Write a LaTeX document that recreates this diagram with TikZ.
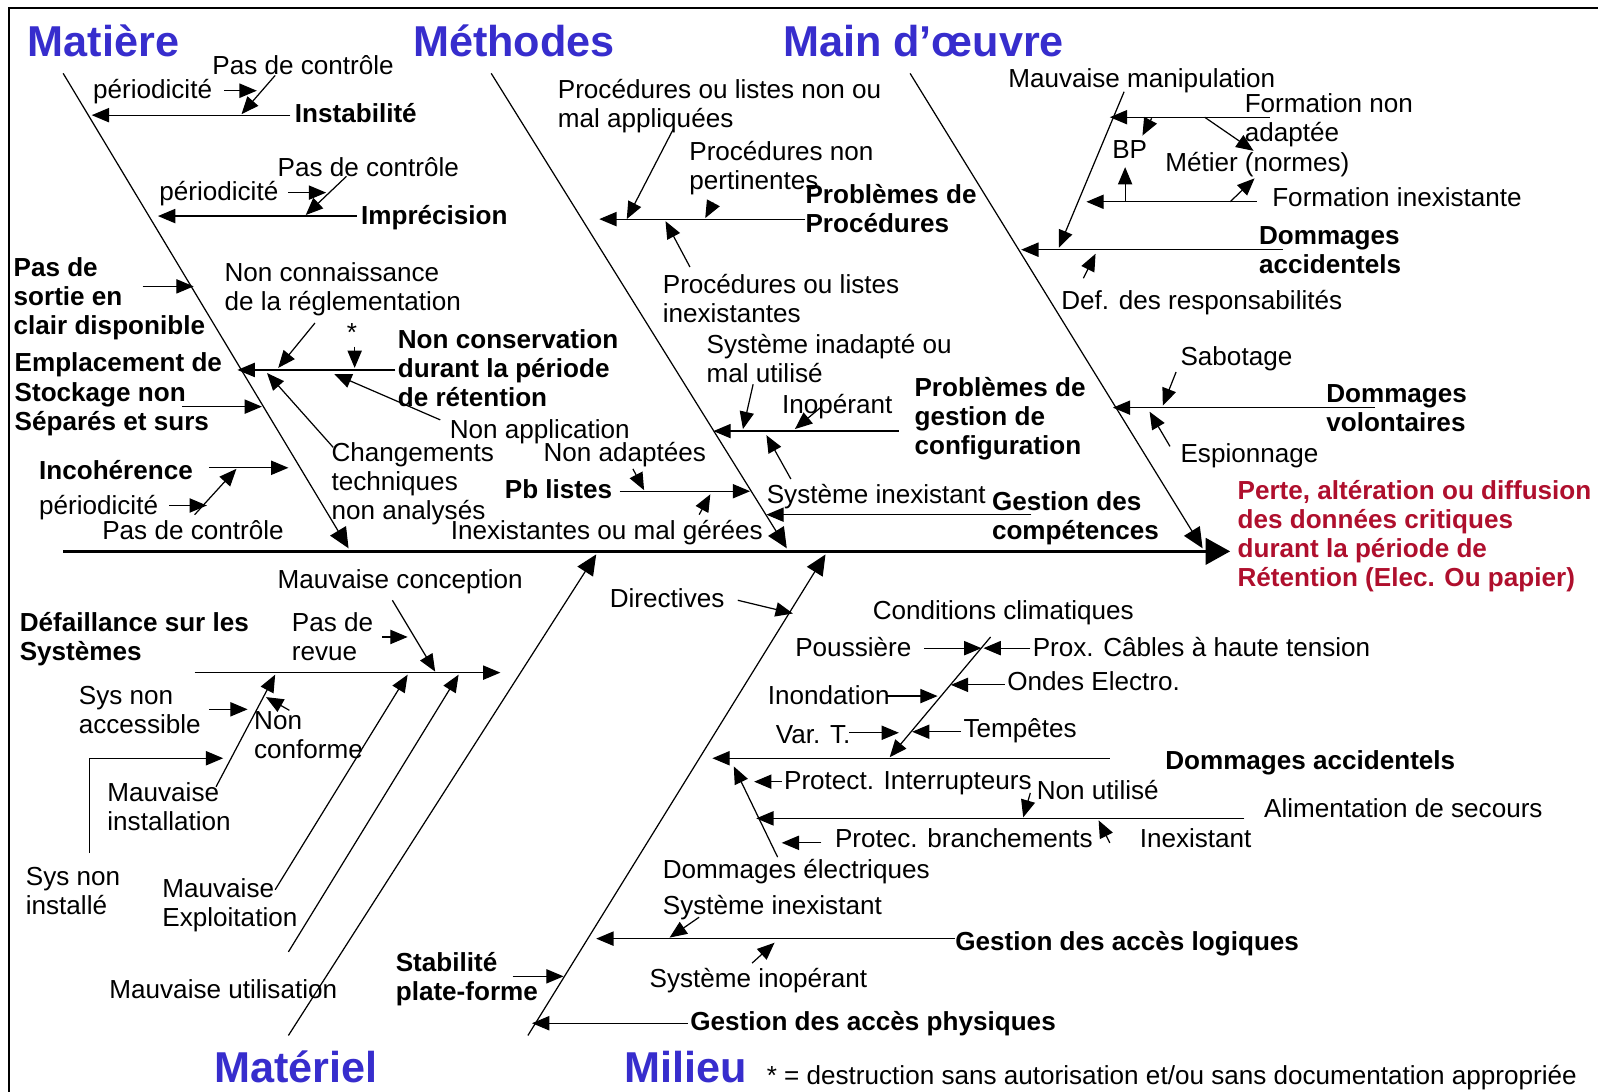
\documentclass[tikz,border=0pt]{standalone}
\usepackage{fontspec}
\setmainfont{Liberation Sans}
\usetikzlibrary{arrows.meta}
\definecolor{titleblue}{RGB}{55,45,205}
\definecolor{effectred}{RGB}{175,15,45}

\begin{document}
\begin{tikzpicture}[
    x=0.5pt, y=-0.5pt,
    lbl/.style={anchor=base west, inner sep=0pt, align=left, yshift=-1pt,
                font=\fontsize{12.8}{14.25}\selectfont},
    cause/.style={lbl, font=\fontsize{12.8}{14.25}\selectfont\bfseries},
    heading/.style={anchor=base west, inner sep=0pt, text=titleblue,
                    font=\fontsize{21.2}{24}\selectfont\bfseries},
    effect/.style={cause, text=effectred},
    % multi-line texts hang from their first line
    nl/.style={yshift={-#1*14.25pt}},
    spine/.style={-{Triangle[length=12pt,width=13pt]}, line width=1.3pt},
    bone/.style={-{Triangle[length=10pt,width=9pt]}, line width=0.6pt},
    flow/.style={-{Triangle[length=8.5pt,width=7pt]}, line width=0.6pt},
]
\useasboundingbox (0,0) rectangle (1568,1071);

% frame
\coordinate (fbl) at (9,1071); \coordinate (ftl) at (9,8); \coordinate (ftr) at (1568,8);
\draw[line width=1pt] (fbl) -- (ftl) -- (ftr);

% spine and main bones
\coordinate (tail) at (62,541);  \coordinate (tip) at (1207,541);
\coordinate (mat0) at (62,72);   \coordinate (mat1) at (342,538);
\coordinate (met0) at (482,72);  \coordinate (met1) at (772,538);
\coordinate (mdo0) at (893,72);  \coordinate (mdo1) at (1180,538);
\coordinate (mtl0) at (283,1016); \coordinate (mtl1) at (585,544);
\coordinate (mil0) at (518,1016); \coordinate (mil1) at (810,544);
\draw[spine] (tail) -- (tip);
\draw[bone] (mat0) -- (mat1);
\draw[bone] (met0) -- (met1);
\draw[bone] (mdo0) -- (mdo1);
\draw[bone] (mtl0) -- (mtl1);
\draw[bone] (mil0) -- (mil1);

\node[heading] (matiere) at (27,55) {Matière};
\node[heading] (methodes) at (405,55) {Méthodes};
\node[heading] (mainoeuvre) at (768,55) {Main d’œuvre};
\node[heading] (materiel) at (210,1062) {Matériel};
\node[heading] (milieu) at (612,1062) {Milieu};
\node[lbl] (note) at (752,1062) {* = destruction sans autorisation et/ou sans documentation appropriée};

\node[effect, nl=3] (effet) at (1214,488)
     {Perte, altération ou diffusion\\des données critiques\\durant la période de\\Rétention (Elec. Ou papier)};

% --- Matière ---
\node[lbl] (pdc1) at (208,71) {Pas de contrôle};
\node[lbl] (per1) at (91,95) {périodicité};
\node[cause] (instab) at (289,118) {Instabilité};
\coordinate (per1a) at (220,89);   \coordinate (per1b) at (252,89);
\coordinate (pdc1a) at (270,74);   \coordinate (pdc1b) at (237,112);
\coordinate (instaba) at (285,113); \coordinate (instabb) at (90,113);
\draw[flow] (per1a) -- (per1b);
\draw[flow] (pdc1a) -- (pdc1b);
\draw[flow] (instaba) -- (instabb);

\node[lbl] (pdc2) at (272,171) {Pas de contrôle};
\node[lbl] (per2) at (156,195) {périodicité};
\node[cause] (imprec) at (354,218) {Imprécision};
\coordinate (per2a) at (283,189);  \coordinate (per2b) at (320,189);
\coordinate (pdc2a) at (340,173);  \coordinate (pdc2b) at (300,211);
\coordinate (impa) at (350,212);   \coordinate (impb) at (155,212);
\draw[flow] (per2a) -- (per2b);
\draw[flow] (pdc2a) -- (pdc2b);
\draw[flow] (impa) -- (impb);

\node[cause, nl=2] (sortie) at (13,269) {Pas de\\sortie en\\clair disponible};
\coordinate (sortiea) at (140,281); \coordinate (sortieb) at (190,281);
\draw[flow] (sortiea) -- (sortieb);

\node[lbl, nl=1] (nonconn) at (220,274) {Non connaissance\\de la réglementation};
\node[lbl] (star) at (340,333) {*};
\node[cause, nl=2] (noncons) at (390,340) {Non conservation\\durant la période\\de rétention};
\coordinate (nonconna) at (309,317); \coordinate (nonconnb) at (273,361);
\coordinate (stara) at (348,340);    \coordinate (starb) at (348,361);
\coordinate (nonconsa) at (388,363); \coordinate (nonconsb) at (233,363);
\draw[flow] (nonconsa) -- (nonconsb);
\draw[flow] (nonconna) -- (nonconnb);
\draw[flow] (stara) -- (starb);

\node[cause, nl=2] (emplac) at (14,363) {Emplacement de\\Stockage non\\Séparés et surs};
\coordinate (emplaca) at (179,399); \coordinate (emplacb) at (257,399);
\draw[flow] (emplaca) -- (emplacb);

\node[lbl] (nonappl) at (441,428) {Non application};
\node[lbl, nl=2] (chgt) at (325,451) {Changements\\techniques\\non analysés};
\coordinate (nonappla) at (432,412); \coordinate (nonapplb) at (328,367);
\coordinate (chgta) at (327,439);    \coordinate (chgtb) at (262,366);
\draw[flow] (nonappla) -- (nonapplb);
\draw[flow] (chgta) -- (chgtb);

\node[cause] (incoh) at (38,468) {Incohérence};
\node[lbl] (per3) at (38,503) {périodicité};
\node[lbl] (pdc3) at (100,527) {Pas de contrôle};
\coordinate (incoha) at (205,459); \coordinate (incohb) at (283,459);
\coordinate (per3a) at (166,496);  \coordinate (per3b) at (203,496);
\coordinate (pdc3a) at (191,505);  \coordinate (pdc3b) at (232,460);
\draw[flow] (incoha) -- (incohb);
\draw[flow] (per3a) -- (per3b);
\draw[flow] (pdc3a) -- (pdc3b);

% --- Méthodes ---
\node[lbl, nl=1] (procmal) at (547,95) {Procédures ou listes non ou\\mal appliquées};
\node[lbl, nl=1] (procpert) at (676,155) {Procédures non\\pertinentes};
\node[cause, nl=1] (procpb) at (790,198) {Problèmes de\\Procédures};
\node[lbl, nl=1] (procinex) at (650,286) {Procédures ou listes\\inexistantes};
\coordinate (procpba) at (790,215);   \coordinate (procpbb) at (588,215);
\coordinate (procmala) at (661,126);  \coordinate (procmalb) at (615,215);
\coordinate (procperta) at (700,199); \coordinate (procpertb) at (692,214);
\coordinate (procinexa) at (677,262); \coordinate (procinexb) at (653,217);
\draw[flow] (procpba) -- (procpbb);
\draw[flow] (procmala) -- (procmalb);
\draw[flow] (procperta) -- (procpertb);
\draw[flow] (procinexa) -- (procinexb);

\node[lbl, nl=1] (sysinad) at (693,345) {Système inadapté ou\\mal utilisé};
\node[lbl] (inop) at (767,404) {Inopérant};
\node[cause, nl=2] (configpb) at (897,387) {Problèmes de\\gestion de\\configuration};
\node[lbl] (sysinex1) at (752,492) {Système inexistant};
\coordinate (configa) at (882,423);   \coordinate (configb) at (700,423);
\coordinate (sysinada) at (739,377);  \coordinate (sysinadb) at (729,421);
\coordinate (inopa) at (805,400);     \coordinate (inopb) at (780,421);
\coordinate (sysinex1a) at (776,470); \coordinate (sysinex1b) at (752,427);
\draw[flow] (configa) -- (configb);
\draw[flow] (sysinada) -- (sysinadb);
\draw[flow] (inopa) -- (inopb);
\draw[flow] (sysinex1a) -- (sysinex1b);

\node[cause, nl=1] (compet) at (973,499) {Gestion des\\compétences};
\coordinate (competa) at (1012,505); \coordinate (competb) at (752,505);
\draw[flow] (competa) -- (competb);

\node[cause] (pblistes) at (495,487) {Pb listes};
\node[lbl] (nonadapt) at (533,451) {Non adaptées};
\node[lbl] (inexmal) at (442,527) {Inexistantes ou mal gérées};
\coordinate (pblistesa) at (608,482); \coordinate (pblistesb) at (736,482);
\coordinate (nonadapta) at (621,460); \coordinate (nonadaptb) at (632,481);
\coordinate (inexmala) at (686,505);  \coordinate (inexmalb) at (697,485);
\draw[flow] (pblistesa) -- (pblistesb);
\draw[flow] (nonadapta) -- (nonadaptb);
\draw[flow] (inexmala) -- (inexmalb);

% --- Main d'oeuvre ---
\node[lbl] (manip) at (989,84) {Mauvaise manipulation};
\node[lbl, nl=1] (formnon) at (1221,108) {Formation non\\adaptée};
\node[lbl] (bp) at (1091,154) {BP};
\node[lbl] (metier) at (1143,166) {Métier (normes)};
\node[lbl] (forminex) at (1248,201) {Formation inexistante};
\coordinate (manipa) at (1103,90);    \coordinate (manipb) at (1039,243);
\coordinate (formnona) at (1246,115); \coordinate (formnonb) at (1089,115);
\coordinate (bpa) at (1130,116);      \coordinate (bpb) at (1121,133);
\coordinate (metiera) at (1182,115);  \coordinate (metierb) at (1230,148);
\coordinate (forminexa) at (1233,198); \coordinate (forminexb) at (1066,198);
\coordinate (bpupa) at (1104,198);    \coordinate (bpupb) at (1104,164);
\coordinate (metupa) at (1207,198);   \coordinate (metupb) at (1231,175);
\draw[flow] (manipa) -- (manipb);
\draw[flow] (formnona) -- (formnonb);
\draw[flow] (bpa) -- (bpb);
\draw[flow] (metiera) -- (metierb);
\draw[flow] (forminexa) -- (forminexb);
\draw[flow] (bpupa) -- (bpupb);
\draw[flow] (metupa) -- (metupb);

\node[cause, nl=1] (dommacc1) at (1235,238) {Dommages\\accidentels};
\node[lbl] (defresp) at (1041,302) {Def. des responsabilités};
\coordinate (dommacc1a) at (1259,245); \coordinate (dommacc1b) at (1002,245);
\coordinate (defrespa) at (1063,273);  \coordinate (defrespb) at (1075,249);
\draw[flow] (dommacc1a) -- (dommacc1b);
\draw[flow] (defrespa) -- (defrespb);

\node[lbl] (sabot) at (1158,357) {Sabotage};
\node[cause, nl=1] (dommvol) at (1301,393) {Dommages\\volontaires};
\node[lbl] (espion) at (1158,452) {Espionnage};
\coordinate (sabota) at (1154,365);   \coordinate (sabotb) at (1141,398);
\coordinate (dommvola) at (1349,400); \coordinate (dommvolb) at (1092,400);
\coordinate (espiona) at (1148,438);  \coordinate (espionb) at (1128,404);
\draw[flow] (sabota) -- (sabotb);
\draw[flow] (dommvola) -- (dommvolb);
\draw[flow] (espiona) -- (espionb);

% --- Matériel ---
\node[cause, nl=1] (defail) at (19,618) {Défaillance sur les\\Systèmes};
\node[lbl] (mconc) at (272,575) {Mauvaise conception};
\node[lbl, nl=1] (revue) at (286,618) {Pas de\\revue};
\coordinate (defaila) at (191,660); \coordinate (defailb) at (491,660);
\coordinate (mconca) at (385,589);  \coordinate (mconcb) at (427,659);
\coordinate (revuea) at (375,625);  \coordinate (revueb) at (400,625);
\draw[flow] (defaila) -- (defailb);
\draw[flow] (mconca) -- (mconcb);
\draw[flow] (revuea) -- (revueb);

\node[lbl, nl=1] (sysacc) at (77,689) {Sys non\\accessible};
\node[lbl, nl=1] (nonconf) at (249,714) {Non\\conforme};
\node[lbl, nl=1] (minst) at (105,784) {Mauvaise\\installation};
\node[lbl, nl=1] (sysinst) at (25,867) {Sys non\\installé};
\coordinate (sysacca) at (205,696);  \coordinate (sysaccb) at (243,696);
\coordinate (nonconfa) at (284,697); \coordinate (nonconfb) at (261,684);
\coordinate (minsta) at (212,772);   \coordinate (minstb) at (270,662);
\coordinate (sysinsta) at (88,837);  \coordinate (sysinstb) at (219,744);
\draw[flow] (sysacca) -- (sysaccb);
\draw[flow] (nonconfa) -- (nonconfb);
\draw[flow] (minsta) -- (minstb);
\draw[flow] (sysinsta) |- (sysinstb);

\node[lbl, nl=1] (mexpl) at (159,879) {Mauvaise\\Exploitation};
\node[lbl] (mutil) at (107,978) {Mauvaise utilisation};
\coordinate (mexpla) at (270,873); \coordinate (mexplb) at (400,662);
\coordinate (mutila) at (283,934); \coordinate (mutilb) at (450,662);
\draw[flow] (mexpla) -- (mexplb);
\draw[flow] (mutila) -- (mutilb);

% --- Milieu ---
\node[cause, nl=1] (stab) at (388,951) {Stabilité\\plate-forme};
\node[lbl] (direct) at (598,594) {Directives};
\coordinate (staba) at (503,958);   \coordinate (stabb) at (553,958);
\coordinate (directa) at (724,589); \coordinate (directb) at (778,602);
\draw[flow] (staba) -- (stabb);
\draw[flow] (directa) -- (directb);

\node[lbl] (clim) at (856,606) {Conditions climatiques};
\node[lbl] (pouss) at (780,642) {Poussière};
\node[lbl] (cables) at (1013,642) {Prox. Câbles à haute tension};
\node[lbl] (ondes) at (988,676) {Ondes Electro.};
\node[lbl] (inond) at (753,689) {Inondation};
\node[lbl] (vart) at (761,728) {Var. T.};
\node[lbl] (tempe) at (945,722) {Tempêtes};
\coordinate (clima) at (972,625);   \coordinate (climb) at (873,743);
\coordinate (poussa) at (907,636);  \coordinate (poussb) at (963,636);
\coordinate (cablesa) at (1011,636); \coordinate (cablesb) at (965,636);
\coordinate (ondesa) at (986,672);  \coordinate (ondesb) at (933,672);
\coordinate (inonda) at (869,683);  \coordinate (inondb) at (920,683);
\coordinate (varta) at (833,719);   \coordinate (vartb) at (882,719);
\coordinate (tempea) at (943,718);  \coordinate (tempeb) at (895,718);
\draw[flow] (clima) -- (climb);
\draw[flow] (poussa) -- (poussb);
\draw[flow] (cablesa) -- (cablesb);
\draw[flow] (ondesa) -- (ondesb);
\draw[flow] (inonda) -- (inondb);
\draw[flow] (varta) -- (vartb);
\draw[flow] (tempea) -- (tempeb);

\node[cause] (dommacc2) at (1143,753) {Dommages accidentels};
\node[lbl] (interr) at (769,773) {Protect. Interrupteurs};
\node[lbl] (delec) at (650,860) {Dommages électriques};
\coordinate (dommacc2a) at (1089,744); \coordinate (dommacc2b) at (699,744);
\coordinate (interra) at (767,767);    \coordinate (interrb) at (740,767);
\coordinate (deleca) at (763,841);     \coordinate (delecb) at (720,752);
\draw[flow] (dommacc2a) -- (dommacc2b);
\draw[flow] (interra) -- (interrb);
\draw[flow] (deleca) -- (delecb);

\node[lbl] (alim) at (1240,800) {Alimentation de secours};
\node[lbl] (nonutil) at (1017,782) {Non utilisé};
\node[lbl] (protbr) at (819,830) {Protec. branchements};
\node[lbl] (inexist) at (1118,830) {Inexistant};
\coordinate (alima) at (1221,803);    \coordinate (alimb) at (742,803);
\coordinate (nonutila) at (1011,778); \coordinate (nonutilb) at (1004,802);
\coordinate (protbra) at (806,827);   \coordinate (protbrb) at (767,827);
\coordinate (inexista) at (1089,827); \coordinate (inexistb) at (1078,805);
\draw[flow] (alima) -- (alimb);
\draw[flow] (nonutila) -- (nonutilb);
\draw[flow] (protbra) -- (protbrb);
\draw[flow] (inexista) -- (inexistb);

\node[lbl] (sysinex2) at (650,895) {Système inexistant};
\node[cause] (logiq) at (937,931) {Gestion des accès logiques};
\node[lbl] (sysinop) at (637,967) {Système inopérant};
\node[cause] (phys) at (677,1009) {Gestion des accès physiques};
\coordinate (sysinex2a) at (686,900); \coordinate (sysinex2b) at (657,920);
\coordinate (logiqa) at (937,921);    \coordinate (logiqb) at (585,921);
\coordinate (sysinopa) at (738,945);  \coordinate (sysinopb) at (760,925);
\coordinate (physa) at (675,1004);    \coordinate (physb) at (522,1004);
\draw[flow] (sysinex2a) -- (sysinex2b);
\draw[flow] (logiqa) -- (logiqb);
\draw[flow] (sysinopa) -- (sysinopb);
\draw[flow] (physa) -- (physb);

\end{tikzpicture}
\end{document}
